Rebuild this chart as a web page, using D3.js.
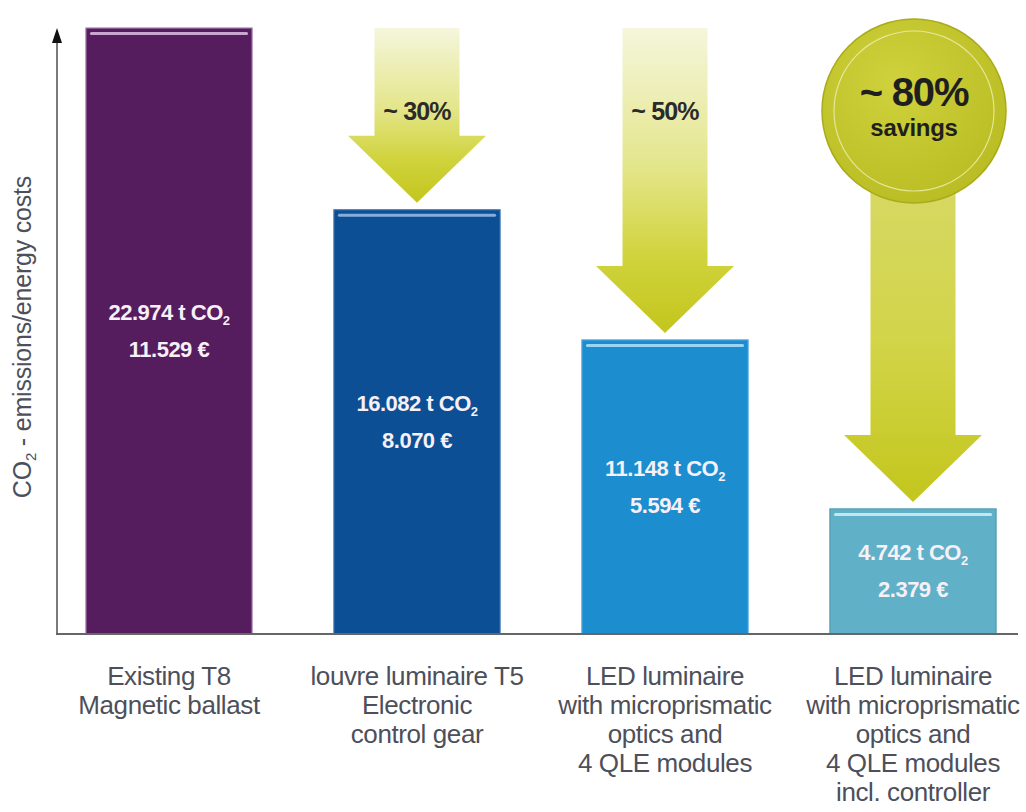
<!DOCTYPE html>
<html>
<head>
<meta charset="utf-8">
<script src="https://cdn.jsdelivr.net/npm/d3@7"></script>
<style>
  html, body { margin: 0; padding: 0; background: #ffffff; }
  svg { display: block; font-family: "Liberation Sans", Arial, Helvetica, sans-serif; }
</style>
</head>
<body>
<svg id="chart" width="1026" height="812"></svg>
<script>
// Lighting retrofit comparison: CO2 emissions and energy costs per solution
const categories = [
  ["Existing T8", "Magnetic ballast"],
  ["louvre luminaire T5", "Electronic", "control gear"],
  ["LED luminaire", "with microprismatic", "optics and", "4 QLE modules"],
  ["LED luminaire", "with microprismatic", "optics and", "4 QLE modules", "incl. controller"]
];
const co2Tonnes = [22.974, 16.082, 11.148, 4.742];
const energyCostsEur = [11.529, 8.070, 5.594, 2.379];
const savingsLabels = [null, "~ 30%", "~ 50%", "~ 80%"];
const barColors = ["#561d5e", "#0d4f94", "#1c8dcf", "#60b0c7"];
const barEdges = ["#a77fb3", "#3f74b3", "#4aa8dc", "#4f9db3"];
const barShine = ["#c8a6d0", "#86aedd", "#9ad6f4", "#c4e6ef"];
const yAxisTitle = "emissions/energy costs";

const svg = d3.select("#chart");
const baseY = 634, topY = 28, axisX = 57;

const x = d3.scaleBand()
  .domain(d3.range(categories.length))
  .range([45, 1037])
  .paddingInner(0.33)
  .paddingOuter(0.165);

const y = d3.scaleLinear()
  .domain([0, d3.max(co2Tonnes)])
  .range([baseY, topY]);

const defs = svg.append("defs");

// arrow fill: pale at the top, saturated yellow-green at the head
const ag = defs.append("linearGradient")
  .attr("id", "arrowGrad").attr("x1", 0).attr("y1", 0).attr("x2", 0).attr("y2", 1);
ag.append("stop").attr("offset", "0%").attr("stop-color", "#f5f6dc");
ag.append("stop").attr("offset", "45%").attr("stop-color", "#e4e68c");
ag.append("stop").attr("offset", "75%").attr("stop-color", "#d0d33c");
ag.append("stop").attr("offset", "100%").attr("stop-color", "#c3c61c");

const ag2 = defs.append("linearGradient")
  .attr("id", "arrowGrad2").attr("x1", 0).attr("y1", 0).attr("x2", 0).attr("y2", 1);
ag2.append("stop").attr("offset", "0%").attr("stop-color", "#d8da70");
ag2.append("stop").attr("offset", "60%").attr("stop-color", "#d2d448");
ag2.append("stop").attr("offset", "100%").attr("stop-color", "#c3c61c");

const cg = defs.append("radialGradient")
  .attr("id", "badgeGrad").attr("cx", "40%").attr("cy", "35%").attr("r", "70%");
cg.append("stop").attr("offset", "0%").attr("stop-color", "#cfd23c");
cg.append("stop").attr("offset", "100%").attr("stop-color", "#b9bc22");

// y axis with arrow head
svg.append("line")
  .attr("x1", axisX).attr("x2", axisX)
  .attr("y1", baseY).attr("y2", topY + 12)
  .attr("stroke", "#7a7a7a").attr("stroke-width", 2);
svg.append("path")
  .attr("d", `M${axisX},${topY} L${axisX - 5},${topY + 15} L${axisX + 5},${topY + 15} Z`)
  .attr("fill", "#111");

// y axis title
const yt = svg.append("text")
  .attr("transform", `translate(31, 337) rotate(-90)`)
  .attr("text-anchor", "middle")
  .attr("font-size", 25)
  .attr("letter-spacing", -0.2)
  .attr("fill", "#4d4f5a");
yt.append("tspan").text("CO");
yt.append("tspan").attr("font-size", 15).attr("dy", 5).text("2");
yt.append("tspan").attr("dy", -5).text(" - " + yAxisTitle);

// saving arrows (drawn behind bars)
const arrowShaft = 42.5, arrowHead = 69, headH = 67, gap = 7;
co2Tonnes.forEach((v, i) => {
  if (!savingsLabels[i]) return;
  const cx = x(i) + x.bandwidth() / 2;
  const tip = y(v) - gap;
  const start = i === 3 ? 111 : y(d3.max(co2Tonnes));
  const hb = tip - headH;
  svg.append("path")
    .attr("d", `M${cx - arrowShaft},${start} L${cx + arrowShaft},${start} L${cx + arrowShaft},${hb}
                L${cx + arrowHead},${hb} L${cx},${tip} L${cx - arrowHead},${hb} L${cx - arrowShaft},${hb} Z`)
    .attr("fill", i === 3 ? "url(#arrowGrad2)" : "url(#arrowGrad)");
  if (i < 3) {
    svg.append("text")
      .attr("x", cx).attr("y", 120)
      .attr("text-anchor", "middle")
      .attr("font-size", 25).attr("font-weight", "bold")
      .attr("letter-spacing", -0.8)
      .attr("fill", "#2b2b2b")
      .text(savingsLabels[i]);
  }
});

// total savings badge
const badge = svg.append("g").attr("transform", `translate(${x(3) + x.bandwidth() / 2 + 1}, 111)`);
badge.append("circle").attr("r", 92)
  .attr("fill", "url(#badgeGrad)").attr("stroke", "#a9ab1a").attr("stroke-width", 1.5);
badge.append("circle").attr("r", 80)
  .attr("fill", "none").attr("stroke", "#eef0b0").attr("stroke-width", 1.2).attr("opacity", 0.8);
badge.append("text")
  .attr("y", -5).attr("text-anchor", "middle")
  .attr("font-size", 40).attr("font-weight", "bold").attr("letter-spacing", -1.2)
  .attr("fill", "#1f1f1f")
  .text(savingsLabels[3]);
badge.append("text")
  .attr("y", 25).attr("text-anchor", "middle")
  .attr("font-size", 24).attr("font-weight", "bold").attr("letter-spacing", -0.3)
  .attr("fill", "#1f1f1f")
  .text("savings");

// bars
const bars = svg.append("g").selectAll("g.bar")
  .data(co2Tonnes)
  .join("g").attr("class", "bar");

bars.append("rect")
  .attr("x", (d, i) => x(i))
  .attr("y", d => y(d))
  .attr("width", x.bandwidth())
  .attr("height", d => baseY - y(d))
  .attr("fill", (d, i) => barColors[i])
  .attr("stroke", (d, i) => barEdges[i])
  .attr("stroke-width", 1.2);

bars.append("rect")
  .attr("x", (d, i) => x(i) + 4)
  .attr("y", d => y(d) + 4)
  .attr("width", x.bandwidth() - 8)
  .attr("height", 3)
  .attr("rx", 1.5)
  .attr("fill", (d, i) => barShine[i]);

// value labels inside bars
bars.each(function (d, i) {
  const g = d3.select(this);
  const cx = x(i) + x.bandwidth() / 2;
  const mid = (y(d) + baseY) / 2;
  const t1 = g.append("text")
    .attr("x", cx).attr("y", mid - 11)
    .attr("text-anchor", "middle")
    .attr("font-size", 22).attr("font-weight", "bold")
    .attr("letter-spacing", -0.5)
    .attr("fill", "#f6f0f7");
  t1.append("tspan").text(d3.format(".3f")(d) + " t CO");
  t1.append("tspan").attr("font-size", 13).attr("dy", 5).text("2");
  g.append("text")
    .attr("x", cx).attr("y", mid + 26)
    .attr("text-anchor", "middle")
    .attr("font-size", 22).attr("font-weight", "bold")
    .attr("letter-spacing", -0.5)
    .attr("fill", "#f6f0f7")
    .text(d3.format(".3f")(energyCostsEur[i]) + " €");
});

// baseline
svg.append("line")
  .attr("x1", axisX - 1).attr("x2", 1018)
  .attr("y1", baseY).attr("y2", baseY)
  .attr("stroke", "#666").attr("stroke-width", 2);

// category labels
const catAxis = svg.append("g");
categories.forEach((lines, i) => {
  const t = catAxis.append("text")
    .attr("text-anchor", "middle")
    .attr("font-size", 26)
    .attr("letter-spacing", -0.4)
    .attr("fill", "#4d4f5a");
  lines.forEach((ln, k) => {
    t.append("tspan")
      .attr("x", x(i) + x.bandwidth() / 2)
      .attr("y", 685 + k * 29)
      .text(ln);
  });
});
</script>
</body>
</html>
